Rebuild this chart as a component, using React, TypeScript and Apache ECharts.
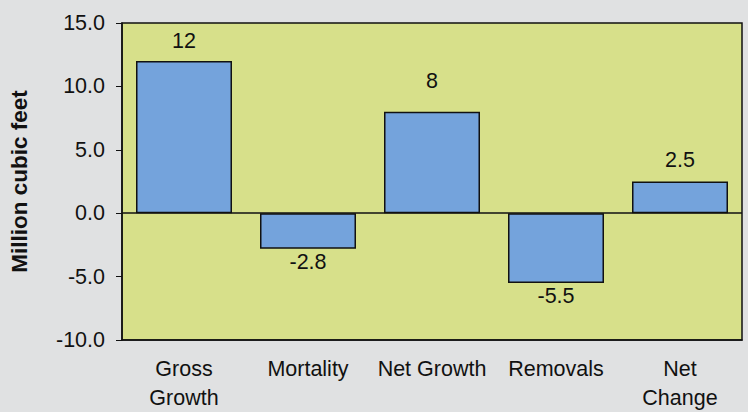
import React, { useEffect, useRef } from "react";
import * as echarts from "echarts";

const categories = ["Gross\nGrowth", "Mortality", "Net Growth", "Removals", "Net\nChange"];
const values = [12, -2.8, 8, -5.5, 2.5];
const yTicks = { min: -10, max: 15, interval: 5 };
const yAxisTitle = "Million cubic feet";

const FONT = 'Arial, "Liberation Sans", sans-serif';
const labelGaps = [9, 2, 20, 2, 11];

export default function App() {
  const ref = useRef<HTMLDivElement>(null);
  useEffect(() => {
    document.body.style.margin = "0";
    const chart = echarts.init(ref.current!, null, { renderer: "svg" });
    chart.setOption({
      animation: false,
      backgroundColor: "#e0e1e2",
      grid: {
        left: 122,
        top: 23,
        right: 6,
        bottom: 72,
        show: true,
        backgroundColor: "#d7e08a",
        borderColor: "#111",
        borderWidth: 1.5,
      },
      xAxis: {
        type: "category",
        data: categories,
        axisLine: { onZero: false, lineStyle: { color: "#111", width: 1.5 } },
        axisTick: { show: false },
        axisLabel: {
          color: "#111",
          fontSize: 21.5,
          fontFamily: FONT,
          lineHeight: 29,
          margin: 14,
          interval: 0,
        },
      },
      yAxis: {
        type: "value",
        min: yTicks.min,
        max: yTicks.max,
        interval: yTicks.interval,
        name: yAxisTitle,
        nameLocation: "middle",
        nameGap: 91,
        nameTextStyle: { color: "#111", fontSize: 22.5, fontWeight: "bold", fontFamily: FONT },
        axisLine: { show: true, lineStyle: { color: "#111", width: 1.5 } },
        axisTick: { show: true, length: 6, lineStyle: { color: "#111" } },
        splitLine: { show: false },
        axisLabel: {
          color: "#111",
          fontSize: 21.5,
          fontFamily: FONT,
          margin: 17,
          formatter: (v: number) => v.toFixed(1),
        },
      },
      series: [
        {
          type: "bar",
          barWidth: 96,
          data: values.map((v, i) => ({
            value: v,
            label: { position: v >= 0 ? "top" : "bottom", distance: labelGaps[i] },
          })),
          itemStyle: { color: "#74a3dc", borderColor: "#111", borderWidth: 1.5 },
          label: {
            show: true,
            color: "#111",
            fontSize: 21.5,
            fontFamily: FONT,
          },
          markLine: {
            silent: true,
            symbol: "none",
            label: { show: false },
            lineStyle: { color: "#111", width: 1.5, type: "solid" },
            data: [{ yAxis: 0 }],
          },
        },
      ],
    });
    return () => chart.dispose();
  }, []);
  return <div ref={ref} style={{ position: "absolute", left: 0, top: 0, width: 748, height: 412 }} />;
}
